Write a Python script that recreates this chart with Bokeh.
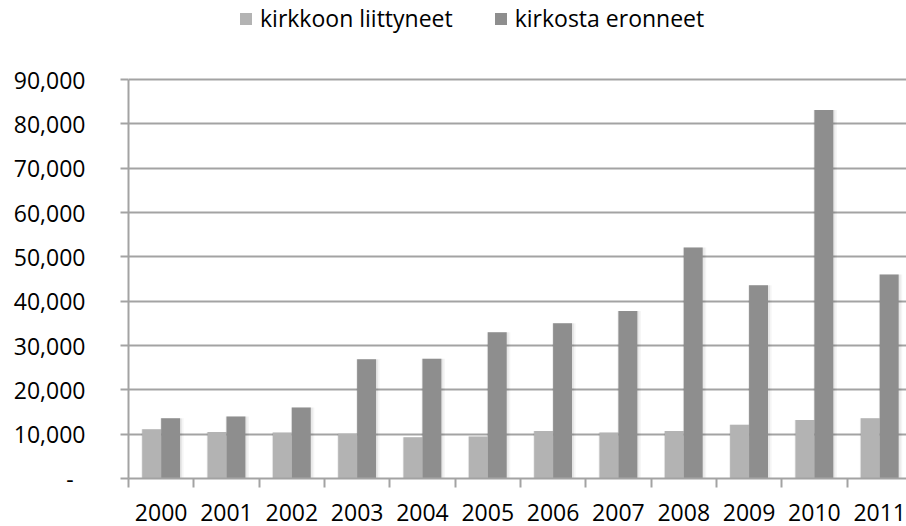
from bokeh.plotting import figure
from bokeh.models import (ColumnDataSource, FixedTicker, NumeralTickFormatter,
                          Range1d, Legend, LegendItem)
from bokeh.transform import dodge
from bokeh.embed import file_html
from bokeh.resources import INLINE

# ---- data ----
years = ["2000", "2001", "2002", "2003", "2004", "2005",
         "2006", "2007", "2008", "2009", "2010", "2011"]
liittyneet = [11100, 10500, 10400, 10100, 9300, 9500,
              10700, 10400, 10700, 12100, 13200, 13600]
eronneet = [13600, 14000, 16000, 26900, 27000, 33000,
            35000, 37800, 52100, 43600, 83100, 46000]
series_names = ["kirkkoon liittyneet", "kirkosta eronneet"]
y_ticks = [0, 10000, 20000, 30000, 40000, 50000, 60000, 70000, 80000, 90000]

idx = list(range(len(years)))
src = ColumnDataSource(dict(x=idx, year=years, liitt=liittyneet, eron=eronneet))

FONT = "Open Sans"
GRID = "#a3a3a3"
LIGHT = "#b3b3b3"
DARK = "#8e8e8e"

# frame spans the full height above the axis so that the legend (drawn in the
# frame) is not clipped; the value axis itself is bounded to 0..90,000
W, H, BOTTOM = 906, 526, 48
y_top = y_ticks[-1] * (H - BOTTOM) / 399.0

p = figure(width=W, height=H, output_backend="svg", toolbar_location=None,
           x_range=Range1d(-0.5, 11.41), y_range=Range1d(0, y_top),
           min_border_left=128, min_border_right=0,
           min_border_top=0, min_border_bottom=BOTTOM)
p.outline_line_color = None
p.background_fill_color = "white"
p.border_fill_color = "white"

# grid
p.xgrid.visible = False
p.ygrid.grid_line_color = GRID
p.ygrid.grid_line_width = 2

# y axis
p.yaxis.ticker = FixedTicker(ticks=y_ticks)
p.yaxis.bounds = (y_ticks[0], y_ticks[-1])
p.yaxis.formatter = NumeralTickFormatter(format="0,0")
p.yaxis.major_label_overrides = {0: "-\u00a0\u00a0"}
p.yaxis.axis_line_color = GRID
p.yaxis.axis_line_width = 2
p.yaxis.major_tick_line_color = GRID
p.yaxis.major_tick_line_width = 2
p.yaxis.major_tick_out = 8
p.yaxis.major_tick_in = 0
p.yaxis.minor_tick_line_color = None
p.yaxis.major_label_standoff = 35
p.yaxis.major_label_text_font = FONT
p.yaxis.major_label_text_font_size = "23px"
p.yaxis.major_label_text_color = "#000000"

# x axis
p.xaxis.ticker = FixedTicker(ticks=idx, minor_ticks=[i - 0.5 for i in range(len(years) + 1)])
p.xaxis.major_label_overrides = {i: y for i, y in zip(idx, years)}
p.xaxis.axis_line_color = GRID
p.xaxis.axis_line_width = 2
p.xaxis.major_tick_line_color = None
p.xaxis.major_tick_out = 0
p.xaxis.major_tick_in = 0
p.xaxis.minor_tick_line_color = GRID
p.xaxis.minor_tick_line_width = 2
p.xaxis.minor_tick_out = 9
p.xaxis.minor_tick_in = 0
p.xaxis.major_label_standoff = 16
p.xaxis.major_label_text_font = FONT
p.xaxis.major_label_text_font_size = "23px"
p.xaxis.major_label_text_color = "#000000"

# soft shadows
for off, col in ((-0.145, "liitt"), (0.145, "eron")):
    p.vbar(x=dodge("x", off + 0.02, range=p.x_range), top=col, width=0.36, bottom=0,
           source=src, fill_color="#000000", fill_alpha=0.04, line_color=None)
    p.vbar(x=dodge("x", off + 0.01, range=p.x_range), top=col, width=0.33, bottom=0,
           source=src, fill_color="#000000", fill_alpha=0.05, line_color=None)

r1 = p.vbar(x=dodge("x", -0.145, range=p.x_range), top="liitt", width=0.29,
            source=src, fill_color=LIGHT, line_color=None)
r2 = p.vbar(x=dodge("x", 0.145, range=p.x_range), top="eron", width=0.29,
            source=src, fill_color=DARK, line_color=None)

legend = Legend(items=[LegendItem(label=series_names[0], renderers=[r1]),
                       LegendItem(label=series_names[1], renderers=[r2])],
                orientation="horizontal", location=(110, 444))
legend.border_line_color = None
legend.background_fill_alpha = 0
legend.padding = 0
legend.margin = 0
legend.spacing = 40
legend.glyph_width = 15
legend.glyph_height = 15
legend.label_standoff = 7
legend.label_text_font = FONT
legend.label_text_font_size = "23px"
legend.label_text_color = "#000000"
p.add_layout(legend, "center")

open("out.html", "w").write(file_html(p, INLINE))
